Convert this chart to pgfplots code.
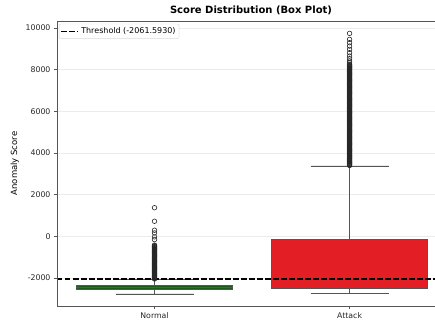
\documentclass[border=0pt]{standalone}
\usepackage{pgfplots}
\pgfplotsset{compat=1.18}
\usepgfplotslibrary{statistics}
\usetikzlibrary{calc}
\usepackage{fontspec}
\setmainfont{DejaVu Sans}
\definecolor{normalgreen}{HTML}{1E5A1E}
\definecolor{attackred}{HTML}{E31E24}
\definecolor{boxedge}{HTML}{555555}
\definecolor{spine}{HTML}{555555}
\begin{document}
\begin{tikzpicture}
\begin{axis}[
  name=ax, scale only axis, width=378pt, height=285pt,
  xmin=-0.5, xmax=1.438, ymin=-3350, ymax=10340,
  xtick={0,1}, xticklabels={Normal,Attack},
  ytick={-2000,0,2000,4000,6000,8000,10000},
  scaled y ticks=false,
  yticklabel style={/pgf/number format/1000 sep={}},
  /pgf/number format/assume math mode=true,
  ymajorgrids, grid style={color=gray!15, line width=0.6pt},
  axis line style={draw=none},
  tick style={color=spine, line width=0.6pt},
  tick align=outside, major tick length=3pt,
  xtick pos=bottom, ytick pos=left,
  ticklabel style={font=\fontsize{7.8}{9}\selectfont, color=black!85},
  ylabel={Anomaly Score}, ylabel style={font=\fontsize{8.5}{10}\selectfont},
  title={\bfseries Score Distribution (Box Plot)},
  title style={font=\fontsize{10}{12}\selectfont, yshift=-3pt, xshift=5pt},
  legend style={at={(0.005,0.99)}, anchor=north west, font=\fontsize{8}{9.5}\selectfont,
    draw=gray!30, rounded corners=2pt, inner sep=1.5pt},
  legend cell align=left,
  boxplot/draw direction=y,
]
\addplot[boxplot prepared={lower whisker=-2770, lower quartile=-2540, median=-2450,
  upper quartile=-2350, upper whisker=-2080, draw position=0, box extend=0.8,
  whisker extend=0.4}, draw=boxedge, fill=normalgreen, line width=0.7pt, forget plot] coordinates {};
\addplot[boxplot prepared={lower whisker=-2755, lower quartile=-2480, median=-2080,
  upper quartile=-125, upper whisker=3380, draw position=1, box extend=0.8,
  whisker extend=0.4}, draw=boxedge, fill=attackred, line width=0.7pt, forget plot] coordinates {};
\addplot[only marks, mark=o, mark size=2.3pt, mark options={draw=black!85, line width=0.6pt}, forget plot]
coordinates {
(0,-2050) (0,-2025) (0,-2000) (0,-1975) (0,-1950) (0,-1925) (0,-1900) (0,-1875) (0,-1850) (0,-1825)
(0,-1800) (0,-1775) (0,-1750) (0,-1725) (0,-1700) (0,-1675) (0,-1650) (0,-1625) (0,-1600) (0,-1575)
(0,-1550) (0,-1525) (0,-1500) (0,-1475) (0,-1450) (0,-1425) (0,-1400) (0,-1375) (0,-1350) (0,-1325)
(0,-1300) (0,-1275) (0,-1250) (0,-1225) (0,-1200) (0,-1175) (0,-1150) (0,-1125) (0,-1100) (0,-1075)
(0,-1050) (0,-1025) (0,-1000) (0,-975) (0,-950) (0,-925) (0,-900) (0,-875) (0,-850) (0,-825)
(0,-800) (0,-775) (0,-750) (0,-725) (0,-700) (0,-675) (0,-650) (0,-625) (0,-600) (0,-575)
(0,-550) (0,-525) (0,-500) (0,-475) (0,-450) (0,-425)
(0,-160) (0,-30) (0,160) (0,290) (0,720) (0,1370)
};
\addplot[only marks, mark=o, mark size=2.3pt, mark options={draw=black!85, line width=0.6pt}, forget plot]
coordinates {
(1,3400) (1,3425) (1,3450) (1,3475) (1,3500) (1,3525) (1,3550) (1,3575) (1,3600) (1,3625)
(1,3650) (1,3675) (1,3700) (1,3725) (1,3750) (1,3775) (1,3800) (1,3825) (1,3850) (1,3875)
(1,3900) (1,3925) (1,3950) (1,3975) (1,4000) (1,4025) (1,4050) (1,4075) (1,4100) (1,4125)
(1,4150) (1,4175) (1,4200) (1,4225) (1,4250) (1,4275) (1,4300) (1,4325) (1,4350) (1,4375)
(1,4400) (1,4425) (1,4450) (1,4475) (1,4500) (1,4525) (1,4550) (1,4575) (1,4600) (1,4625)
(1,4650) (1,4675) (1,4700) (1,4725) (1,4750) (1,4775) (1,4800) (1,4825) (1,4850) (1,4875)
(1,4900) (1,4925) (1,4950) (1,4975) (1,5000) (1,5025) (1,5050) (1,5075) (1,5100) (1,5125)
(1,5150) (1,5175) (1,5200) (1,5225) (1,5250) (1,5275) (1,5300) (1,5325) (1,5350) (1,5375)
(1,5400) (1,5425) (1,5450) (1,5475) (1,5500) (1,5525) (1,5550) (1,5575) (1,5600) (1,5625)
(1,5650) (1,5675) (1,5700) (1,5725) (1,5750) (1,5775) (1,5800) (1,5825) (1,5850) (1,5875)
(1,5900) (1,5925) (1,5950) (1,5975) (1,6000) (1,6025) (1,6050) (1,6075) (1,6100) (1,6125)
(1,6150) (1,6175) (1,6200) (1,6225) (1,6250) (1,6275) (1,6300) (1,6325) (1,6350) (1,6375)
(1,6400) (1,6425) (1,6450) (1,6475) (1,6500) (1,6525) (1,6550) (1,6575) (1,6600) (1,6625)
(1,6650) (1,6675) (1,6700) (1,6725) (1,6750) (1,6775) (1,6800) (1,6825) (1,6850) (1,6875)
(1,6900) (1,6925) (1,6950) (1,6975) (1,7000) (1,7025) (1,7050) (1,7075) (1,7100) (1,7125)
(1,7150) (1,7175) (1,7200) (1,7225) (1,7250) (1,7275) (1,7300) (1,7325) (1,7350) (1,7375)
(1,7400) (1,7425) (1,7450) (1,7475) (1,7500) (1,7525) (1,7550) (1,7575) (1,7600) (1,7625)
(1,7650) (1,7675) (1,7700) (1,7725) (1,7750) (1,7775) (1,7800) (1,7825) (1,7850) (1,7875)
(1,7900) (1,7925) (1,7950) (1,7975) (1,8000) (1,8025) (1,8050) (1,8075) (1,8100) (1,8125)
(1,8150) (1,8175) (1,8200) (1,8225) (1,8250)
(1,8330) (1,8413) (1,8530) (1,8655) (1,8817) (1,8976) (1,9135) (1,9298) (1,9457) (1,9745)
};
\addplot[black, line width=1.6pt, dash pattern=on 5.5pt off 2.5pt] coordinates {(-0.5,-2061.593) (1.438,-2061.593)};
\addlegendentry{Threshold (-2061.5930)}
\end{axis}
\draw[spine, line width=0.8pt] (ax.north east) -- (ax.north west) -- (ax.south west) -- (ax.south east);
\pgfresetboundingbox
\path ($(ax.south west)+(-57pt,-14pt)$) rectangle ($(ax.north east)+(0pt,21pt)$);
\end{tikzpicture}
\end{document}
